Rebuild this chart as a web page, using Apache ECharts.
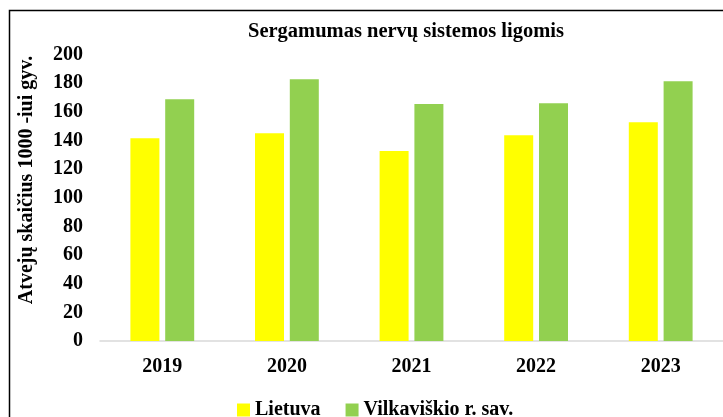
<!DOCTYPE html>
<html>
<head>
<meta charset="utf-8">
<title>Sergamumas nervų sistemos ligomis</title>
<script src="https://cdn.jsdelivr.net/npm/echarts@6/dist/echarts.min.js"></script>
<style>
    html, body { margin: 0; padding: 0; background: #fff; }
    #chart { width: 723px; height: 417px; }
</style>
</head>
<body>
<div id="chart"></div>
<script>
// duomenys
var years = ["2019", "2020", "2021", "2022", "2023"];
var lietuva = [141.5, 145.0, 132.6, 143.6, 152.7];
var vilkaviskio = [168.7, 182.7, 165.4, 165.9, 181.3];
var seriesNames = ["Lietuva", "Vilkaviškio r. sav."];

var serif = '"Liberation Serif", "Times New Roman", serif';

var myChart = echarts.init(document.getElementById("chart"));
var option = {
    animation: false,
    title: {
        text: "Sergamumas nervų sistemos ligomis",
        left: 401,
        top: 16,
        textAlign: "center",
        textStyle: { fontFamily: serif, fontSize: 20.5, fontWeight: "bold", color: "#000" },
    },
    grid: {
        top: 54.5,
        left: 100,
        width: 625, // dešinė pusė nukirpta, kaip originale
        bottom: 76,
        containLabel: false,
    },
    legend: {
        data: seriesNames,
        left: 237,
        top: 400,
        padding: 0,
        itemWidth: 13,
        itemHeight: 13,
        itemGap: 25,
        icon: "rect",
        textStyle: { fontFamily: serif, fontSize: 20, fontWeight: "bold", color: "#000" },
    },
    xAxis: {
        type: "category",
        data: years,
        axisLine: { lineStyle: { color: "#d9d9d9", width: 1.5 } },
        axisTick: { show: false },
        axisLabel: {
            margin: 16,
            fontFamily: serif,
            fontSize: 20,
            fontWeight: "bold",
            color: "#000",
        },
    },
    yAxis: {
        type: "value",
        min: 0,
        max: 200,
        interval: 20,
        splitLine: { show: false },
        axisLine: { show: false },
        axisTick: { show: false },
        axisLabel: {
            margin: 17,
            fontFamily: serif,
            fontSize: 20,
            fontWeight: "bold",
            color: "#000",
        },
    },
    // rėmelis ir ašies pavadinimas
    graphic: [
        {
            type: "rect",
            shape: { x: 9.5, y: 10.5, width: 800, height: 500 },
            style: { fill: "none", stroke: "#000", lineWidth: 1.5 },
            silent: true,
        },
        {
            type: "text",
            x: 27,
            y: 180,
            rotation: Math.PI / 2,
            style: {
                text: "Atvejų skaičius 1000 -iui gyv.",
                fontFamily: serif,
                fontSize: 20,
                fontWeight: "bold",
                fill: "#000",
                align: "center",
                verticalAlign: "middle",
            },
        },
    ],
    series: [
        {
            type: "bar",
            name: seriesNames[0],
            data: lietuva,
            barWidth: 29,
            barGap: "20%",
            itemStyle: { color: "#ffff00" },
        },
        {
            type: "bar",
            name: seriesNames[1],
            data: vilkaviskio,
            barWidth: 29,
            barGap: "20%",
            itemStyle: { color: "#92d050" },
        },
    ],
};
myChart.setOption(option);
</script>
</body>
</html>
